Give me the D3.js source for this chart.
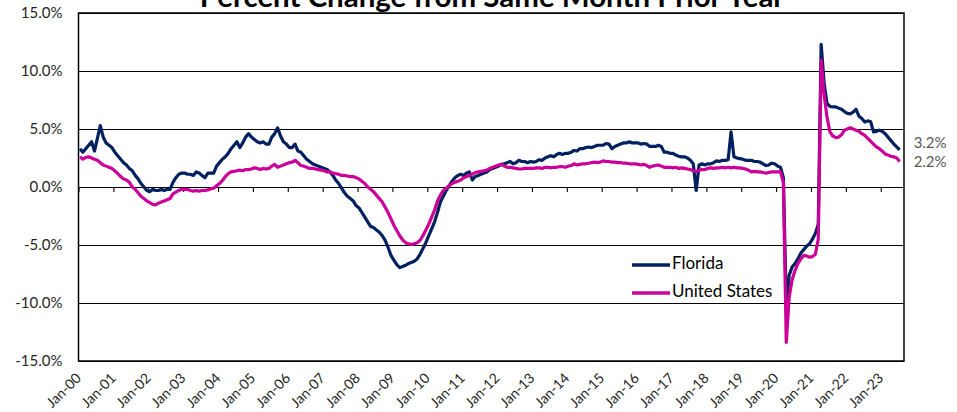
<!DOCTYPE html>
<html>
<head>
<meta charset="utf-8">
<script src="https://cdn.jsdelivr.net/npm/d3@7"></script>
<style>
  body { margin: 0; background: #fff; }
  svg { display: block; font-family: 'Lato', sans-serif; }
</style>
</head>
<body>
<svg id="chart" width="957" height="412"></svg>
<script>
// Year-over-year percent change, monthly, Jan-00 .. Jul-23 (one row per year)
var floridaPct = [
  3.3, 3.0, 3.3, 3.6, 3.9, 3.1, 4.2, 5.3, 4.3, 3.8, 3.6, 3.4,
  3.0, 2.7, 2.4, 2.1, 1.9, 1.6, 1.4, 1.0, 0.7, 0.3, 0.0, -0.3,
  -0.4, -0.2, -0.3, -0.3, -0.2, -0.3, -0.2, -0.2, 0.4, 0.8, 1.1, 1.2,
  1.2, 1.1, 1.1, 1.0, 1.3, 1.2, 1.0, 0.8, 1.2, 1.2, 1.2, 1.8,
  2.1, 2.4, 2.6, 2.9, 3.3, 3.6, 3.9, 3.4, 3.8, 4.3, 4.6, 4.3,
  4.1, 3.9, 3.8, 3.9, 3.7, 3.7, 4.3, 4.6, 5.1, 4.4, 3.9, 3.7,
  3.4, 3.4, 3.7, 3.1, 3.0, 2.7, 2.4, 2.2, 2.0, 1.9, 1.8, 1.7,
  1.6, 1.5, 1.3, 1.0, 0.6, 0.3, -0.1, -0.5, -0.8, -1.0, -1.2, -1.6,
  -1.8, -2.2, -2.6, -3.0, -3.4, -3.5, -3.7, -3.9, -4.2, -4.6, -5.2, -5.9,
  -6.3, -6.7, -6.95, -6.85, -6.75, -6.6, -6.5, -6.4, -6.2, -5.8, -5.3, -4.8,
  -4.2, -3.6, -3.0, -2.2, -1.3, -0.8, -0.3, 0.1, 0.5, 0.8, 1.0, 1.1,
  1.0, 1.2, 1.3, 0.6, 0.9, 1.0, 1.1, 1.2, 1.3, 1.5, 1.6, 1.7,
  1.8, 1.95, 2.0, 2.1, 2.2, 2.0, 2.1, 2.3, 2.2, 2.2, 2.1, 2.2,
  2.15, 2.2, 2.35, 2.3, 2.5, 2.6, 2.7, 2.6, 2.8, 2.9, 2.8, 2.9,
  2.9, 3.0, 3.15, 3.1, 3.3, 3.3, 3.4, 3.45, 3.4, 3.5, 3.6, 3.6,
  3.6, 3.75, 3.7, 3.3, 3.5, 3.6, 3.7, 3.8, 3.8, 3.9, 3.8, 3.8,
  3.8, 3.7, 3.75, 3.7, 3.5, 3.5, 3.5, 3.6, 3.5, 3.0, 3.0, 2.9,
  2.9, 2.75, 2.65, 2.6, 2.6, 2.5, 2.3, 2.0, -0.3, 1.9, 2.0, 1.9,
  2.0, 2.0, 2.1, 2.25, 2.2, 2.3, 2.3, 2.35, 4.75, 2.6, 2.5, 2.45,
  2.4, 2.3, 2.3, 2.3, 2.2, 2.2, 2.15, 2.0, 1.85, 1.9, 2.05, 2.0,
  1.8, 1.7, 0.8, -10.2, -7.6, -6.9, -6.6, -6.2, -5.7, -5.4, -5.1, -4.9,
  -4.5, -4.0, -3.2, 12.3, 9.0, 7.2, 6.95, 6.9, 6.9, 6.8, 6.7, 6.5,
  6.35, 6.3, 6.45, 6.7, 6.1, 5.9, 5.6, 5.7, 5.65, 4.75, 4.8, 4.9,
  4.8, 4.6, 4.3, 4.0, 3.7, 3.45, 3.2
];

var usPct = [
  2.6, 2.4, 2.55, 2.6, 2.5, 2.4, 2.3, 2.1, 1.9, 1.8, 1.7, 1.6,
  1.4, 1.15, 0.9, 0.7, 0.6, 0.4, 0.0, -0.2, -0.5, -0.8, -1.0, -1.2,
  -1.35, -1.5, -1.55, -1.4, -1.3, -1.2, -1.1, -1.0, -0.6, -0.45, -0.3, -0.2,
  -0.2, -0.2, -0.3, -0.35, -0.3, -0.35, -0.3, -0.3, -0.25, -0.15, -0.1, 0.1,
  0.3, 0.55, 0.9, 1.15, 1.3, 1.35, 1.4, 1.45, 1.4, 1.5, 1.5, 1.55,
  1.65, 1.6, 1.5, 1.6, 1.55, 1.6, 1.8, 1.95, 1.7, 1.8, 1.9, 2.0,
  2.1, 2.15, 2.3, 2.1, 1.85, 1.8, 1.7, 1.6, 1.6, 1.55, 1.5, 1.45,
  1.4, 1.3, 1.3, 1.2, 1.15, 1.1, 1.0, 1.0, 0.95, 0.9, 0.9, 0.8,
  0.7, 0.5, 0.3, 0.0, -0.2, -0.4, -0.7, -1.0, -1.3, -1.75, -2.2, -2.75,
  -3.3, -3.75, -4.2, -4.55, -4.8, -4.9, -4.95, -4.9, -4.8, -4.6, -4.2, -3.7,
  -3.2, -2.6, -2.0, -1.2, -0.7, -0.3, -0.1, 0.1, 0.3, 0.4, 0.5, 0.6,
  0.8, 0.9, 1.0, 1.1, 1.25, 1.3, 1.35, 1.4, 1.45, 1.6, 1.7, 1.8,
  1.9, 1.95, 1.8, 1.7, 1.7, 1.65, 1.6, 1.55, 1.55, 1.6, 1.6, 1.6,
  1.6, 1.65, 1.65, 1.6, 1.7, 1.7, 1.65, 1.7, 1.7, 1.75, 1.75, 1.7,
  1.8, 1.85, 2.0, 1.9, 1.95, 2.0, 2.0, 2.05, 2.1, 2.15, 2.1, 2.15,
  2.25, 2.2, 2.2, 2.15, 2.15, 2.1, 2.1, 2.05, 2.05, 2.0, 2.0, 2.0,
  1.95, 1.9, 1.95, 1.85, 1.7, 1.8, 1.85, 1.9, 1.8, 1.7, 1.7, 1.7,
  1.65, 1.7, 1.6, 1.65, 1.6, 1.55, 1.5, 1.4, 1.35, 1.45, 1.5, 1.5,
  1.6, 1.65, 1.6, 1.65, 1.65, 1.7, 1.65, 1.7, 1.65, 1.7, 1.65, 1.65,
  1.6, 1.55, 1.45, 1.3, 1.35, 1.3, 1.3, 1.25, 1.2, 1.25, 1.3, 1.3,
  1.3, 1.3, 0.4, -13.4, -9.5, -8.0, -7.2, -6.6, -6.2, -5.9, -5.95, -6.05,
  -6.0, -5.8, -4.5, 10.95, 8.0, 6.05, 4.75, 4.4, 4.25, 4.3, 4.5, 4.9,
  5.0, 5.1, 5.0, 4.9, 4.8, 4.6, 4.45, 4.2, 3.95, 3.7, 3.45, 3.3,
  3.1, 2.85, 2.75, 2.65, 2.6, 2.5, 2.2
];

var seriesNames = ['Florida', 'United States'];
var seriesColors = ['#002060', '#cc0099'];
var endLabels = ['3.2%', '2.2%'];

var xTickLabels = ['Jan-00', 'Jan-01', 'Jan-02', 'Jan-03', 'Jan-04', 'Jan-05', 'Jan-06',
  'Jan-07', 'Jan-08', 'Jan-09', 'Jan-10', 'Jan-11', 'Jan-12', 'Jan-13', 'Jan-14',
  'Jan-15', 'Jan-16', 'Jan-17', 'Jan-18', 'Jan-19', 'Jan-20', 'Jan-21', 'Jan-22', 'Jan-23'];
var yTicks = [-15, -10, -5, 0, 5, 10, 15];

var categoryCount = 284; // Jan-00 .. Aug-23

var svg = d3.select('#chart');
var padding = {t: 13, r: 53, b: 51, l: 78.5};
var chartWidth = 957 - padding.l - padding.r;
var chartHeight = 412 - padding.t - padding.b;

var chartG = svg.append('g')
    .attr('transform', 'translate(' + [padding.l, padding.t] + ')');

// category boundaries on a linear scale, points sit in the middle of each category
var xScale = d3.scaleLinear().domain([0, categoryCount]).range([0, chartWidth]);
var yScale = d3.scaleLinear().domain([-15, 15]).range([chartHeight, 0]);

// horizontal gridlines
chartG.append('g')
    .attr('class', 'grid')
    .call(d3.axisLeft(yScale).tickValues(yTicks).tickSize(-chartWidth).tickFormat(''))
    .call(g => g.select('.domain').remove())
    .selectAll('line')
    .attr('stroke', '#000')
    .attr('stroke-width', 1.1);

// y labels
chartG.append('g')
    .attr('class', 'y-labels')
    .call(d3.axisLeft(yScale).tickValues(yTicks).tickSize(0).tickPadding(16)
        .tickFormat(d => d.toFixed(1) + '%'))
    .call(g => g.select('.domain').remove())
    .selectAll('text')
    .attr('fill', '#262626')
    .style('font-size', '15px')
    .style('font-family', 'Lato, sans-serif');

// zero axis with yearly tick marks
var yearStarts = xTickLabels.map((d, i) => i * 12);
chartG.append('g')
    .attr('class', 'x-axis')
    .attr('transform', 'translate(0,' + yScale(0) + ')')
    .call(d3.axisBottom(xScale).tickValues(yearStarts).tickSize(5).tickFormat(''))
    .call(g => g.select('.domain').remove())
    .selectAll('line')
    .attr('stroke', '#000')
    .attr('stroke-width', 1.1);

// x labels, rotated, along the bottom of the plot
chartG.append('g')
    .attr('class', 'x-labels')
    .selectAll('text')
    .data(xTickLabels)
    .enter()
    .append('text')
    .attr('transform', (d, i) => 'translate(' + (xScale(i * 12 + 0.5) + 2) + ',' + (chartHeight + 18) + ') rotate(-45)')
    .attr('text-anchor', 'end')
    .attr('fill', '#262626')
    .style('font-size', '14px')
    .text(d => d);

// plot frame
chartG.append('rect')
    .attr('width', chartWidth)
    .attr('height', chartHeight)
    .attr('fill', 'none')
    .attr('stroke', '#000')
    .attr('stroke-width', 1.5);

var line = d3.line()
    .x((d, i) => xScale(i + 0.5))
    .y(d => yScale(d));

[floridaPct, usPct].forEach(function(values, k) {
    chartG.append('path')
        .datum(values)
        .attr('fill', 'none')
        .attr('stroke', seriesColors[k])
        .attr('stroke-width', 3.2)
        .attr('stroke-linejoin', 'round')
        .attr('d', line);

    // value label at the end of each line
    var last = values.length - 1;
    chartG.append('text')
        .attr('x', xScale(last + 0.5) + 14)
        .attr('y', k === 0 ? yScale(values[last]) - 6 : yScale(values[last]) + 2)
        .attr('dominant-baseline', 'middle')
        .attr('fill', '#595959')
        .style('font-size', '15px')
        .text(endLabels[k]);
});

// legend
var legend = svg.append('g').attr('class', 'legend');
seriesNames.forEach(function(name, k) {
    var ly = 265 + k * 28;
    legend.append('line')
        .attr('x1', 632).attr('x2', 670)
        .attr('y1', ly).attr('y2', ly)
        .attr('stroke', seriesColors[k])
        .attr('stroke-width', 3.5);
    legend.append('text')
        .attr('x', 672)
        .attr('y', ly)
        .attr('dominant-baseline', 'middle')
        .attr('fill', '#000')
        .style('font-size', '17px')
        .text(name);
});

// title, partly cut off at the top like the original
var title = svg.append('text')
    .attr('x', 492)
    .attr('y', 6.5)
    .attr('text-anchor', 'middle')
    .style('font-weight', 'bold')
    .style('font-size', '26px')
    .text('Percent Change from Same Month Prior Year');
var tw = title.node().getComputedTextLength();
title.style('font-size', (26 * 585 / tw) + 'px');
</script>
</body>
</html>
